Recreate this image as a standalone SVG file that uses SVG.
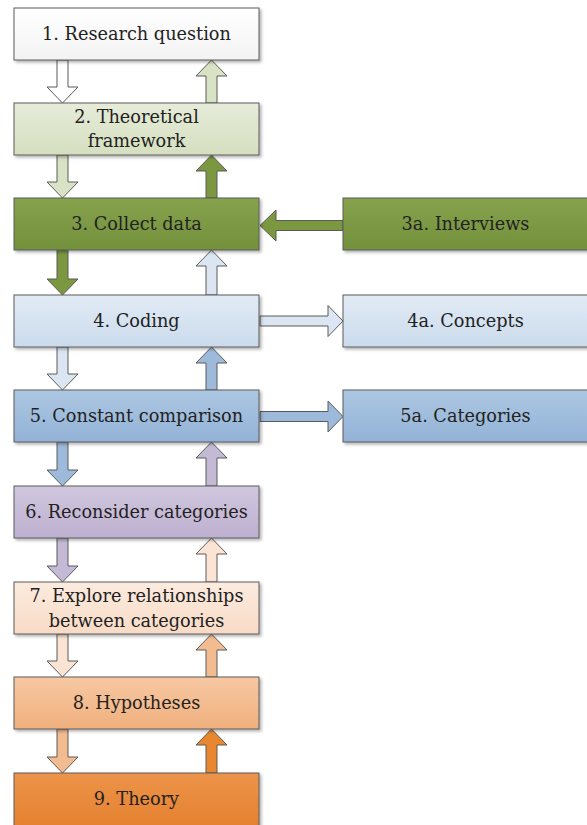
<svg xmlns="http://www.w3.org/2000/svg" width="587" height="825" viewBox="0 0 587 825">
  <style>
    .box { stroke: #5a5a5a; stroke-width: 1; filter: url(#shadow); }
    .arrow { stroke: #5a5a5a; stroke-width: 1; stroke-linejoin: miter; }
    .label { font-family: "DejaVu Serif", "Liberation Serif", serif; font-size: 17.7px; fill: #222222; text-anchor: middle; }
  </style>
  <defs>
    <filter id="shadow" x="-5%" y="-10%" width="115%" height="130%">
      <feDropShadow dx="2" dy="2" stdDeviation="1.5" flood-color="#000" flood-opacity="0.3"/>
    </filter>
    <linearGradient id="g1" x1="0" y1="0" x2="0" y2="1"><stop offset="0" stop-color="#ffffff"/><stop offset="1" stop-color="#f3f3f3"/></linearGradient>
    <linearGradient id="g2" x1="0" y1="0" x2="0" y2="1"><stop offset="0" stop-color="#e6ecd9"/><stop offset="1" stop-color="#d5dfbf"/></linearGradient>
    <linearGradient id="g3" x1="0" y1="0" x2="0" y2="1"><stop offset="0" stop-color="#86a24d"/><stop offset="1" stop-color="#73903b"/></linearGradient>
    <linearGradient id="g4" x1="0" y1="0" x2="0" y2="1"><stop offset="0" stop-color="#e1ebf5"/><stop offset="1" stop-color="#cbdbec"/></linearGradient>
    <linearGradient id="g5" x1="0" y1="0" x2="0" y2="1"><stop offset="0" stop-color="#acc7e2"/><stop offset="1" stop-color="#92b2d6"/></linearGradient>
    <linearGradient id="g6" x1="0" y1="0" x2="0" y2="1"><stop offset="0" stop-color="#d1c7de"/><stop offset="1" stop-color="#bdb0d0"/></linearGradient>
    <linearGradient id="g7" x1="0" y1="0" x2="0" y2="1"><stop offset="0" stop-color="#fcebdf"/><stop offset="1" stop-color="#f8dbc6"/></linearGradient>
    <linearGradient id="g8" x1="0" y1="0" x2="0" y2="1"><stop offset="0" stop-color="#f7c8a2"/><stop offset="1" stop-color="#f0b07e"/></linearGradient>
    <linearGradient id="g9" x1="0" y1="0" x2="0" y2="1"><stop offset="0" stop-color="#ed9449"/><stop offset="1" stop-color="#e4802e"/></linearGradient>
  </defs>

  <!-- connectors: block arrows -->
  <g id="connectors">
    <!-- downward arrows, left lane -->
    <path class="arrow" fill="#ffffff" d="M57,60 H68 V87 H78 L62.5,103 L47,87 H57 Z"/>
    <path class="arrow" fill="#d8e2c4" d="M57,155 H68 V182 H78 L62.5,198 L47,182 H57 Z"/>
    <path class="arrow" fill="#7b973f" d="M57,250 H68 V279 H78 L62.5,295 L47,279 H57 Z"/>
    <path class="arrow" fill="#dbe6f2" d="M57,347 H68 V374 H78 L62.5,390 L47,374 H57 Z"/>
    <path class="arrow" fill="#9dbadb" d="M57,442 H68 V470 H78 L62.5,486 L47,470 H57 Z"/>
    <path class="arrow" fill="#c5bad6" d="M57,538 H68 V566 H78 L62.5,582 L47,566 H57 Z"/>
    <path class="arrow" fill="#fbe4d4" d="M57,634 H68 V661 H78 L62.5,677 L47,661 H57 Z"/>
    <path class="arrow" fill="#f3bc90" d="M57,729 H68 V757 H78 L62.5,773 L47,757 H57 Z"/>
    <!-- upward arrows, right lane -->
    <path class="arrow" fill="#d8e2c4" d="M206,103 H217 V76 H227 L211.5,60 L196,76 H206 Z"/>
    <path class="arrow" fill="#7b973f" d="M206,198 H217 V171 H227 L211.5,155 L196,171 H206 Z"/>
    <path class="arrow" fill="#dbe6f2" d="M206,295 H217 V266 H227 L211.5,250 L196,266 H206 Z"/>
    <path class="arrow" fill="#9dbadb" d="M206,390 H217 V363 H227 L211.5,347 L196,363 H206 Z"/>
    <path class="arrow" fill="#c5bad6" d="M206,486 H217 V458 H227 L211.5,442 L196,458 H206 Z"/>
    <path class="arrow" fill="#fbe4d4" d="M206,582 H217 V554 H227 L211.5,538 L196,554 H206 Z"/>
    <path class="arrow" fill="#f3bc90" d="M206,677 H217 V650 H227 L211.5,634 L196,650 H206 Z"/>
    <path class="arrow" fill="#e8872f" d="M206,773 H217 V745 H227 L211.5,729 L196,745 H206 Z"/>
    <!-- horizontal arrows -->
    <path class="arrow" fill="#7b973f" d="M343,220.5 V230.5 H276 V241 L260,225.5 L276,210 V220.5 Z"/>
    <path class="arrow" fill="#dbe6f2" d="M260,316 V326 H328 V336.5 L343,321 L328,305.5 V316 Z"/>
    <path class="arrow" fill="#9dbadb" d="M260,411.5 V421.5 H328 V432 L343,416.5 L328,401 V411.5 Z"/>
  </g>

  <g id="n1"><rect class="box" x="14" y="8" width="245" height="52" fill="url(#g1)"/><text class="label" x="136.5" y="40">1. Research question</text></g>
  <g id="n2"><rect class="box" x="14" y="103" width="245" height="52" fill="url(#g2)"/><text class="label" x="136.5" y="123">2. Theoretical</text><text class="label" x="136.5" y="147">framework</text></g>
  <g id="n3"><rect class="box" x="14" y="198" width="245" height="52" fill="url(#g3)"/><text class="label" x="136.5" y="230">3. Collect data</text></g>
  <g id="n3a"><rect class="box" x="343" y="198" width="245" height="52" fill="url(#g3)"/><text class="label" x="465.5" y="230">3a. Interviews</text></g>
  <g id="n4"><rect class="box" x="14" y="295" width="245" height="52" fill="url(#g4)"/><text class="label" x="136.5" y="327">4. Coding</text></g>
  <g id="n4a"><rect class="box" x="343" y="295" width="245" height="52" fill="url(#g4)"/><text class="label" x="465.5" y="327">4a. Concepts</text></g>
  <g id="n5"><rect class="box" x="14" y="390" width="245" height="52" fill="url(#g5)"/><text class="label" x="136.5" y="422">5. Constant comparison</text></g>
  <g id="n5a"><rect class="box" x="343" y="390" width="245" height="52" fill="url(#g5)"/><text class="label" x="465.5" y="422">5a. Categories</text></g>
  <g id="n6"><rect class="box" x="14" y="486" width="245" height="52" fill="url(#g6)"/><text class="label" x="136.5" y="518">6. Reconsider categories</text></g>
  <g id="n7"><rect class="box" x="14" y="582" width="245" height="52" fill="url(#g7)"/><text class="label" x="136.5" y="602">7. Explore relationships</text><text class="label" x="136.5" y="627">between categories</text></g>
  <g id="n8"><rect class="box" x="14" y="677" width="245" height="52" fill="url(#g8)"/><text class="label" x="136.5" y="709">8. Hypotheses</text></g>
  <g id="n9"><rect class="box" x="14" y="773" width="245" height="56" fill="url(#g9)"/><text class="label" x="136.5" y="805">9. Theory</text></g>
</svg>
